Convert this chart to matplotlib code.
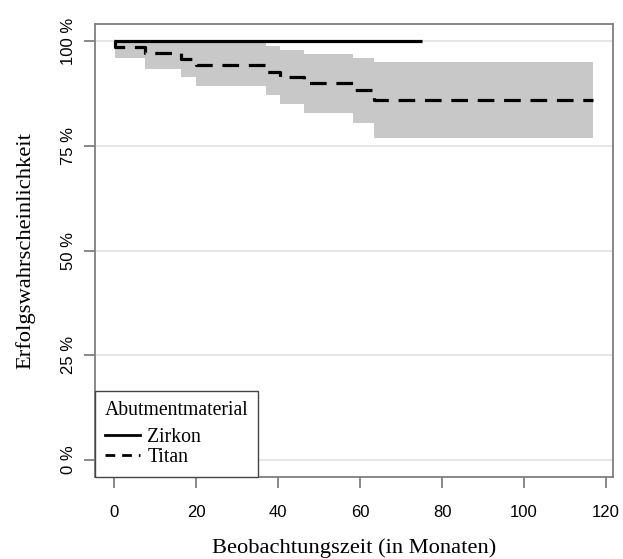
import matplotlib
matplotlib.use("Agg")
import matplotlib.pyplot as plt
from matplotlib.lines import Line2D

plt.rcParams['lines.scale_dashes'] = False

# Kaplan-Meier Daten (Monate, Erfolgswahrscheinlichkeit in %)
zirkon_t = [0, 75.1]
zirkon_s = [100, 100]

titan_t = [0, 0.3, 7.4, 16.3, 20.0, 37.0, 40.4, 46.3, 58.3, 63.3, 116.8]
titan_s = [100, 98.7, 97.3, 95.9, 94.4, 92.8, 91.5, 90.0, 88.4, 86.0, 86.0]
titan_upper = [100, 100, 100, 100, 100, 99.0, 98.0, 97.1, 96.1, 95.1, 95.1]
titan_lower = [100, 96.1, 93.5, 91.4, 89.3, 87.1, 85.1, 82.9, 80.5, 76.9, 76.9]

xticks = [0, 20, 40, 60, 80, 100, 120]
yticks = [0, 25, 50, 75, 100]
ylabels = ['0 %', '25 %', '50 %', '75 %', '100 %']

serif = ['Liberation Serif', 'DejaVu Serif']
sans = ['Liberation Sans', 'DejaVu Sans']
axcol = '#7f7f7f'

fig = plt.figure(figsize=(6.23, 5.59), dpi=100)
ax = fig.add_axes([95/623, 1 - 477/559, (613-95)/623, (477-24)/559])

for y in yticks:
    ax.axhline(y, color='#e6e6e6', lw=1.4, zorder=0)

ax.fill_between(titan_t, titan_lower, titan_upper, step='post',
                color='#c8c8c8', lw=0, zorder=1)
ax.plot(zirkon_t, zirkon_s, color='black', lw=2.3, solid_capstyle='butt', zorder=3)
ax.step(titan_t, titan_s, where='post', color='black', lw=2.3,
        linestyle=(0, (12, 7)), zorder=3)

ax.set_xlim(-4.7, 121.7)
ax.set_ylim(-4.16, 104.16)
ax.set_xticks(xticks)
ax.set_xticklabels([str(x) for x in xticks], family=sans, fontsize=12)
ax.set_yticks(yticks)
ax.set_yticklabels(ylabels, family=sans, fontsize=12, rotation=90, va='center')
ax.tick_params(axis='x', length=8, width=1.3, color=axcol, pad=12)
ax.tick_params(axis='y', length=8, width=1.3, color=axcol, pad=6)
for s in ax.spines.values():
    s.set_color(axcol)
    s.set_linewidth(1.3)

ax.set_xlabel('Beobachtungszeit (in Monaten)', family=serif, fontsize=16.2, labelpad=13)
ax.set_ylabel('Erfolgswahrscheinlichkeit', family=serif, fontsize=16.2, labelpad=18)

handles = [Line2D([], [], color='black', lw=2),
           Line2D([], [], color='black', lw=2, linestyle=(0, (7, 5)))]
leg = ax.legend(handles, ['Zirkon', 'Titan'], title='Abutmentmaterial',
                loc='lower left', bbox_to_anchor=(0, 0), borderaxespad=0,
                fancybox=False, framealpha=1, edgecolor='#444444',
                prop={'family': serif, 'size': 14.2},
                title_fontproperties={'family': serif, 'size': 14.2},
                handlelength=1.8, handletextpad=0.35, labelspacing=0.05,
                borderpad=0.5, alignment='left')
leg._legend_box.sep = 6
leg.get_frame().set_linewidth(1.0)

fig.savefig('out.png', dpi=100)
